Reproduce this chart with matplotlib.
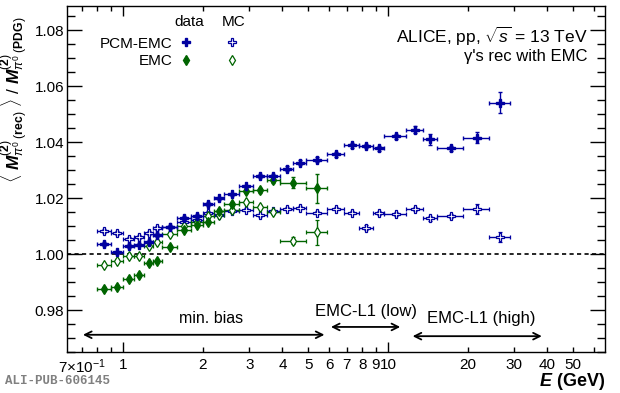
import numpy as np
import matplotlib
matplotlib.use("Agg")
import matplotlib.pyplot as plt
from matplotlib.lines import Line2D
from matplotlib.ticker import FixedLocator, FixedFormatter, MultipleLocator, FormatStrFormatter

plt.rcParams["font.family"] = ["Liberation Sans", "DejaVu Sans"]
plt.rcParams["mathtext.fontset"] = "custom"
plt.rcParams["mathtext.rm"] = "Liberation Sans"
plt.rcParams["mathtext.it"] = "Liberation Sans:italic"
plt.rcParams["mathtext.bf"] = "Liberation Sans:bold"
plt.rcParams["mathtext.bfit"] = "Liberation Sans:bold:italic"

# bin edges (GeV)
edges_pcm = [0.8, 0.9, 1.0, 1.1, 1.2, 1.3, 1.4, 1.6, 1.8, 2.0, 2.2, 2.4, 2.75, 3.1, 3.5, 3.9,
             4.4, 4.9, 5.9, 6.8, 7.8, 8.8, 9.7, 11.7, 13.6, 15.3, 19.2, 24.0, 29.0]
edges_emc = [0.8, 0.9, 1.0, 1.1, 1.2, 1.3, 1.4, 1.6, 1.8, 2.0, 2.2, 2.4, 2.75, 3.1, 3.5, 3.9,
             4.9, 5.9]

# PCM-EMC
pcm_data = [1.0036, 1.0007, 1.0029, 1.0034, 1.0044, 1.0069, 1.0096, 1.0129, 1.0138, 1.0179,
            1.0200, 1.0214, 1.0243, 1.0278, 1.0280, 1.0306, 1.0327, 1.0338, 1.0357, 1.0389,
            1.0386, 1.0378, 1.0421, 1.0445, 1.0410, 1.0378, 1.0417, 1.0542]
pcm_data_err = [0.0006, 0.0006, 0.0006, 0.0006, 0.0006, 0.0006, 0.0006, 0.0006, 0.0006, 0.0006,
                0.0006, 0.0006, 0.0006, 0.0007, 0.0007, 0.0008, 0.0008, 0.0008, 0.0008, 0.0009,
                0.0008, 0.0009, 0.0010, 0.0012, 0.0018, 0.0009, 0.0018, 0.0038]
pcm_mc = [1.0083, 1.0076, 1.0056, 1.0062, 1.0076, 1.0094, 1.0098, 1.0115, 1.0122, 1.0147,
          1.0139, 1.0155, 1.0159, 1.0139, 1.0153, 1.0163, 1.0166, 1.0148, 1.0163, 1.0148,
          1.0095, 1.0148, 1.0145, 1.0161, 1.0128, 1.0136, 1.0161, 1.0062]
pcm_mc_err = [0.0006] * 20 + [0.0009, 0.0007, 0.0007, 0.0008, 0.0009, 0.0008, 0.0018, 0.0018]

# EMC
emc_data = [0.9874, 0.9883, 0.9911, 0.9925, 0.9967, 0.9976, 1.0026, 1.0085, 1.0105, 1.0116,
            1.0155, 1.0179, 1.0226, 1.0228, 1.0264, 1.0256, 1.0236]
emc_data_err = [0.0007] * 12 + [0.0008, 0.0009, 0.0010, 0.0020, 0.0052]
emc_mc = [0.9963, 0.9976, 0.9994, 0.9993, 1.0029, 1.0042, 1.0072, 1.0100, 1.0115, 1.0135,
          1.0140, 1.0157, 1.0185, 1.0168, 1.0151, 1.0048, 1.0079]
emc_mc_err = [0.0007] * 15 + [0.0012, 0.0045]

blue = "#0000a0"
green = "#006400"


def centers(edges):
    e = np.array(edges)
    return (e[1:] + e[:-1]) / 2, (e[1:] - e[:-1]) / 2


x_pcm, dx_pcm = centers(edges_pcm)
x_emc, dx_emc = centers(edges_emc)

fig = plt.figure(figsize=(6.2, 3.93), dpi=100)
ax = fig.add_axes([0.108, 0.104, 0.868, 0.88])

ax.axhline(1.0, color="black", ls=(0, (2.5, 2)), lw=1.2, zorder=1)

ebkw = dict(ls="none", elinewidth=1.0, capsize=1.5, capthick=1.0)
ax.errorbar(x_pcm, pcm_mc, xerr=dx_pcm, yerr=pcm_mc_err, fmt="P", color=blue, mfc="white",
            mec=blue, ms=5.8, mew=0.9, **ebkw)
ax.errorbar(x_emc, emc_mc, xerr=dx_emc, yerr=emc_mc_err, fmt="d", color=green, mfc="white",
            mec=green, ms=5.5, mew=0.9, **ebkw)
ax.errorbar(x_emc, emc_data, xerr=dx_emc, yerr=emc_data_err, fmt="d", color=green,
            ms=5.5, **ebkw)
ax.errorbar(x_pcm, pcm_data, xerr=dx_pcm, yerr=pcm_data_err, fmt="P", color=blue,
            ms=5.8, **ebkw)

ax.set_xscale("log")
ax.set_xlim(0.615, 66)
ax.set_ylim(0.965, 1.0886)

ax.xaxis.set_major_locator(FixedLocator([1, 10]))
ax.xaxis.set_major_formatter(FixedFormatter(["1", "10"]))
minor_locs = [0.7, 0.8, 0.9, 2, 3, 4, 5, 6, 7, 8, 9, 20, 30, 40, 50, 60]
minor_labels = [r"7$\times$10$^{-1}$", "", "", "2", "3", "4", "5", "6", "7", "8", "9",
                "20", "30", "40", "50", ""]
ax.xaxis.set_minor_locator(FixedLocator(minor_locs))
ax.xaxis.set_minor_formatter(FixedFormatter(minor_labels))
ax.yaxis.set_major_locator(MultipleLocator(0.02))
ax.yaxis.set_minor_locator(MultipleLocator(0.005))
ax.yaxis.set_major_formatter(FormatStrFormatter("%.2f"))

ax.tick_params(which="both", direction="in", top=True, right=True, labelsize=11, width=1.0)
ax.tick_params(axis="x", which="major", length=7, pad=4)
ax.tick_params(axis="x", which="minor", length=3.6, pad=4)
ax.tick_params(axis="y", which="major", length=11, pad=2)
ax.tick_params(axis="y", which="minor", length=5.5)
for s in ax.spines.values():
    s.set_linewidth(1.0)

ax.set_xlabel(r"$\mathbfit{E}$ (GeV)", loc="right", fontsize=13, fontweight="bold")
ax.xaxis.set_label_coords(1.0, -0.055)
ax.set_ylabel(r"$\langle\ \mathbfit{M}^{(\mathbf{2})}_{\pi^{0}\ (\mathbf{rec})}\ \rangle\ /\ "
              r"\mathbfit{M}^{(\mathbf{2})}_{\pi^{0}\ (\mathbf{PDG})}$",
              loc="top", fontsize=12.5)
ax.yaxis.set_label_coords(-0.066, 0.97)

# trigger ranges
ax.annotate("", xy=(0.69, 0.9712), xytext=(5.9, 0.9712),
            arrowprops=dict(arrowstyle="<->", color="black", lw=1.3, mutation_scale=12))
ax.annotate("", xy=(5.95, 0.9740), xytext=(11.4, 0.9740),
            arrowprops=dict(arrowstyle="<->", color="black", lw=1.3, mutation_scale=12))
ax.annotate("", xy=(12.1, 0.9707), xytext=(39, 0.9707),
            arrowprops=dict(arrowstyle="<->", color="black", lw=1.3, mutation_scale=12))
ax.text(2.15, 0.9770, "min. bias", ha="center", va="center", fontsize=11.5)
ax.text(8.3, 0.9795, "EMC-L1 (low)", ha="center", va="center", fontsize=12)
ax.text(22.5, 0.9770, "EMC-L1 (high)", ha="center", va="center", fontsize=12)

# legend
handles = [Line2D([], [], ls="none", marker="P", color=blue, ms=5.8),
           Line2D([], [], ls="none", marker="d", color=green, ms=5.5),
           Line2D([], [], ls="none", marker="P", color=blue, mfc="white", ms=5.8, mew=0.9),
           Line2D([], [], ls="none", marker="d", color=green, mfc="white", ms=5.5, mew=0.9)]
ax.legend(handles, ["PCM-EMC", "EMC", "", ""], ncol=2, markerfirst=False, frameon=False,
          loc="upper left", bbox_to_anchor=(0.05, 0.93), fontsize=11, handlelength=1.0,
          handletextpad=0.4, columnspacing=1.6, labelspacing=0.25, borderaxespad=0)
ax.text(0.228, 0.955, "data", transform=ax.transAxes, ha="center", va="center", fontsize=11)
ax.text(0.310, 0.955, "MC", transform=ax.transAxes, ha="center", va="center", fontsize=11)

ax.text(0.968, 0.913, r"ALICE, pp, $\sqrt{s}$ = 13 TeV", transform=ax.transAxes,
        ha="right", va="center", fontsize=12.5)
ax.text(0.968, 0.855, "γ's rec with EMC", transform=ax.transAxes,
        ha="right", va="center", fontsize=12)

fig.text(0.008, 0.022, "ALI-PUB-606145", family="Liberation Mono", fontsize=9,
         color="#808080", fontweight="bold")

fig.savefig("out.png", dpi=100)
